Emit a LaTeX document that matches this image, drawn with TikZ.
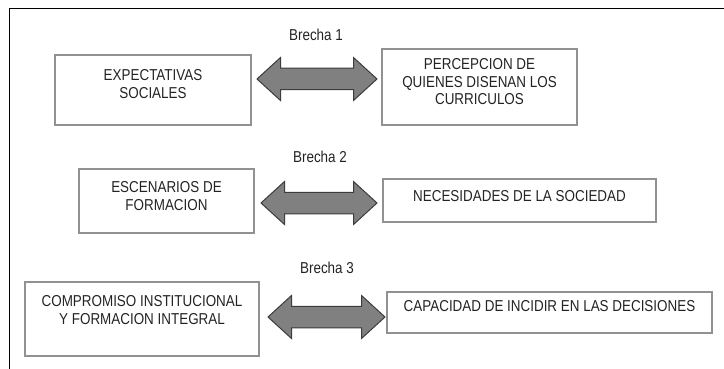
\documentclass[tikz,border=0pt]{standalone}
\usepackage{fontspec}
\setmainfont{Liberation Sans}[FakeStretch=0.85]
\usetikzlibrary{calc}

\definecolor{boxgray}{RGB}{145,145,145}
\definecolor{arrowfill}{RGB}{128,128,128}
\definecolor{arrowline}{RGB}{60,60,60}
\definecolor{inkgray}{RGB}{35,35,35}

\tikzset{
  box/.style={draw=boxgray, line width=1.6pt, rectangle, inner sep=0pt},
  boxtext/.style={anchor=north, align=center, inner sep=0pt, text=inkgray,
    font=\fontsize{15.8}{17.8}\selectfont},
  gaplabel/.style={inner sep=0pt, text=inkgray, font=\fontsize{15.8}{17.8}\selectfont},
  gaparrow/.style={fill=arrowfill, draw=arrowline, line width=1pt, line join=miter}
}

% double headed arrow between two tips
\newcommand{\gaparrow}[2]{%
  \draw[gaparrow] (#1) -- ($(#1)+(23.5,-21.5)$) -- ($(#1)+(23.5,-10.75)$)
    -- ($(#2)+(-23.5,-10.75)$) -- ($(#2)+(-23.5,-21.5)$) -- (#2)
    -- ($(#2)+(-23.5,21.5)$) -- ($(#2)+(-23.5,10.75)$)
    -- ($(#1)+(23.5,10.75)$) -- ($(#1)+(23.5,21.5)$) -- cycle;}

\begin{document}
\begin{tikzpicture}[x=1pt, y=-1pt]
    \useasboundingbox (0,0) rectangle (724,369);
    % Outer frame (runs off the page right and bottom)
    \draw[line width=1pt] (9,369) -- (9,9) -- (724,9);

    % Brecha 1
    \node[gaplabel] (brecha1) at (316,35) {Brecha 1};
    \node[box, minimum width=196pt, minimum height=70pt] (expect) at (153,90) {};
    \node[boxtext] (expect-t) at (153,69) {EXPECTATIVAS\\SOCIALES};
    \node[box, minimum width=195pt, minimum height=76pt] (percep) at (479.5,87) {};
    \node[boxtext] (percep-t) at (479.5,58) {PERCEPCION DE\\QUIENES DISENAN LOS\\CURRICULOS};
    \coordinate (g1a) at (257,79);
    \coordinate (g1b) at (377,79);
    \gaparrow{g1a}{g1b}

    % Brecha 2
    \node[gaplabel] (brecha2) at (320,157) {Brecha 2};
    \node[box, minimum width=175pt, minimum height=64pt] (escen) at (166.5,201) {};
    \node[boxtext] (escen-t) at (166.5,181) {ESCENARIOS DE\\FORMACION};
    \node[box, minimum width=273pt, minimum height=43pt] (necesid) at (519.5,200.5) {};
    \node[boxtext] (necesid-t) at (519.5,190.5) {NECESIDADES DE LA SOCIEDAD};
    \coordinate (g2a) at (261,203);
    \coordinate (g2b) at (377,203);
    \gaparrow{g2a}{g2b}

    % Brecha 3
    \node[gaplabel] (brecha3) at (327,268) {Brecha 3};
    \node[box, minimum width=234pt, minimum height=74pt] (compro) at (142,319) {};
    \node[boxtext] (compro-t) at (142,295) {COMPROMISO INSTITUCIONAL\\Y FORMACION INTEGRAL};
    \node[box, minimum width=325pt, minimum height=41pt] (capac) at (549.5,312.5) {};
    \node[boxtext] (capac-t) at (549.5,300) {CAPACIDAD DE INCIDIR EN LAS DECISIONES};
    \coordinate (g3a) at (268,317);
    \coordinate (g3b) at (385,317);
    \gaparrow{g3a}{g3b}
\end{tikzpicture}
\end{document}
